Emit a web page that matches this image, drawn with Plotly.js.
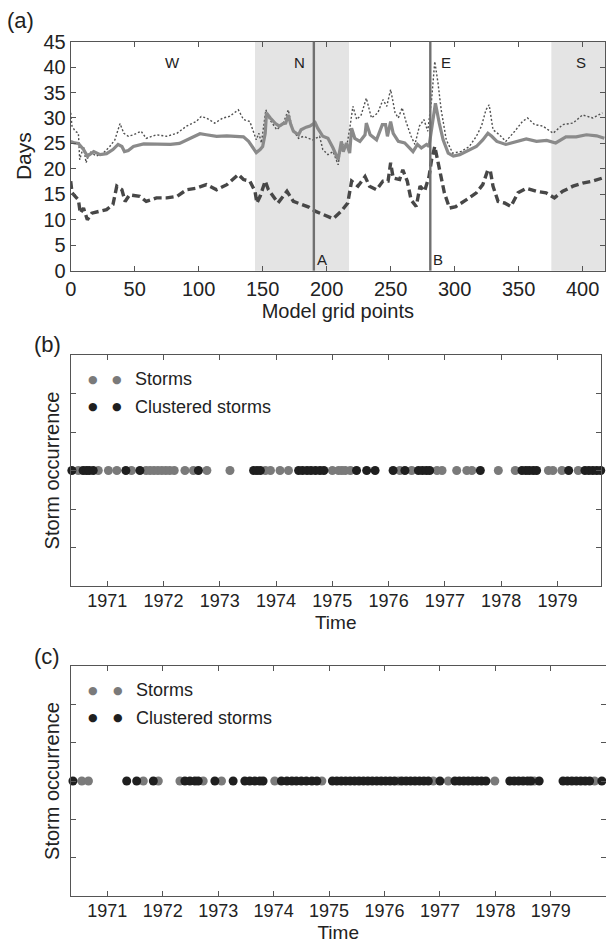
<!DOCTYPE html>
<html>
<head>
<meta charset="utf-8">
<script src="https://cdn.plot.ly/plotly-3.0.1.min.js"></script>
<style>
  html, body { margin: 0; padding: 0; background: #fff; }
  #chart { width: 606px; height: 949px; }
</style>
</head>
<body>
<div id="chart"></div>
<script>
// ---- Panel (a): days along the model grid ----
const solidGrid = [0, 3, 6, 10, 13, 18, 23, 28, 33, 37, 40, 42, 45, 49, 57, 67, 78, 85, 93, 101, 106, 114, 122, 130, 135, 139, 143, 145, 148, 150, 152, 153, 156, 160, 163, 166, 168, 170, 172, 174, 178, 180, 184, 187, 191, 193, 197, 201, 205, 209, 211.5, 213, 215.5, 218, 219.5, 222, 226, 230, 231, 234, 239, 243.5, 246, 247.5, 250, 252, 256, 261, 267.5, 271, 274, 278, 280, 283, 285, 288, 291, 295, 299, 304, 309, 317, 322, 326, 329, 333, 340, 348, 356, 364, 372, 379, 387, 395, 403, 411, 417];
const solidDays = [25.4, 25.1, 25.0, 23.8, 22.5, 23.4, 22.8, 23.0, 23.8, 24.8, 24.4, 23.4, 23.6, 24.4, 24.9, 24.8, 24.8, 25.0, 26.0, 26.9, 26.7, 26.4, 26.5, 26.4, 26.3, 25.4, 24.1, 23.2, 23.8, 24.4, 27.0, 31.0, 30.0, 28.9, 28.4, 28.9, 29.0, 30.6, 28.7, 27.4, 26.7, 27.7, 28.2, 28.4, 29.1, 28.0, 26.4, 26.0, 24.1, 21.8, 25.4, 23.4, 25.1, 23.1, 28.0, 26.0, 25.4, 26.7, 29.0, 26.7, 25.7, 28.7, 28.7, 26.4, 29.3, 27.0, 25.4, 25.1, 23.4, 24.8, 24.1, 24.8, 24.4, 29.7, 32.9, 29.0, 25.7, 23.1, 22.5, 22.8, 23.4, 24.4, 25.7, 27.0, 26.4, 25.4, 24.8, 25.4, 25.9, 25.4, 25.6, 25.1, 26.3, 26.3, 26.7, 26.5, 26.0];

const dottedGrid = [0, 1, 3.5, 6, 7, 10, 12, 15, 20, 25.5, 30.5, 34.5, 38.5, 41.5, 45, 49, 55, 59, 67, 75, 83, 90.5, 98, 102, 106, 112.5, 119, 124, 131, 135, 140, 142.5, 145, 147, 149, 152.5, 155.5, 161, 166, 170, 173, 178, 182, 189, 194.5, 197, 201, 205, 209, 211.5, 215.5, 218.5, 220.5, 223.5, 227, 231, 235, 240, 244, 247, 250, 253.5, 256, 259, 262, 266, 269, 272.5, 276, 279, 282, 284.5, 287, 289.5, 293.5, 298.5, 305, 311.5, 317, 321, 324.5, 327, 330, 335, 340, 347, 353, 357, 362.5, 369, 377, 384.5, 392.5, 400, 408, 415.5];
const dottedDays = [31.0, 28.4, 27.4, 27.0, 21.8, 24.4, 21.2, 23.4, 22.5, 23.1, 24.4, 25.7, 28.9, 27.0, 26.4, 26.7, 27.4, 26.0, 26.7, 26.4, 27.0, 28.4, 29.3, 30.3, 30.0, 29.0, 30.0, 30.3, 31.6, 29.7, 29.3, 27.7, 25.7, 27.0, 25.1, 31.6, 29.7, 27.7, 28.9, 31.6, 28.0, 26.0, 26.4, 25.7, 26.4, 23.8, 22.8, 23.4, 20.8, 25.1, 24.1, 28.7, 32.3, 29.7, 30.6, 33.9, 30.0, 31.0, 33.6, 32.3, 35.6, 31.0, 30.0, 32.0, 29.3, 26.4, 24.8, 28.4, 29.7, 27.4, 33.6, 41.1, 36.9, 31.6, 25.7, 23.1, 23.4, 24.4, 26.4, 28.4, 31.6, 32.6, 27.7, 26.7, 25.4, 27.4, 29.3, 30.0, 28.7, 28.4, 27.0, 28.7, 29.0, 30.6, 30.0, 31.0];

const dashedGrid = [0, 1, 3.5, 6, 7.5, 10, 13, 16.5, 23, 28, 33, 36, 40, 42.5, 46, 54, 59, 67, 75, 83, 90.5, 98, 106, 114, 122, 127, 131, 135, 140, 144, 145.5, 148, 152, 154.5, 158, 162, 166, 169, 174, 181.5, 186, 191, 197, 205, 211.5, 216.5, 219.5, 224.5, 230, 233.5, 239, 244, 248, 250, 252, 257, 259.5, 263, 266, 270, 273, 276.5, 280, 282, 284.5, 288, 289.5, 292, 296, 301, 309, 317, 322, 326, 328, 330, 334, 339, 344, 349.5, 356, 364, 371.5, 378, 384.5, 392.5, 400, 408, 415.5];
const dashedDays = [17.6, 15.3, 14.6, 13.9, 11.3, 12.3, 10.0, 11.3, 11.7, 12.0, 13.0, 16.6, 15.9, 13.6, 14.9, 14.6, 13.6, 14.3, 14.3, 14.6, 15.9, 16.2, 16.9, 15.9, 16.9, 17.9, 18.9, 17.9, 17.6, 15.6, 13.3, 14.6, 17.6, 15.9, 14.6, 13.3, 14.6, 15.6, 13.6, 13.0, 12.5, 11.7, 11.0, 10.2, 11.7, 13.3, 17.6, 16.6, 18.5, 16.6, 15.9, 17.6, 17.6, 21.2, 18.2, 17.9, 19.8, 17.6, 13.9, 12.6, 16.6, 15.6, 18.5, 21.8, 24.4, 19.8, 17.9, 15.3, 12.3, 12.6, 13.9, 15.3, 16.9, 19.8, 19.5, 16.6, 13.6, 13.3, 12.6, 15.3, 16.2, 15.6, 15.3, 14.3, 15.6, 16.6, 17.2, 17.6, 18.2];

// Shaded coastal sectors and their labels
const sectorStart = [144, 375.6];
const sectorEnd = [217.5, 417.5];
const regionNames = ['W', 'N', 'E', 'S'];
const regionGrid = [79.5, 178.4, 293.3, 398.7];
// Marked grid points
const markNames = ['A', 'B'];
const markGrid = [190, 281];

// ---- Panels (b) and (c): storm occurrence in time ----
const yearTicks = [1971, 1972, 1973, 1974, 1975, 1976, 1977, 1978, 1979];
const yearLabels = ['1971', '1972', '1973', '1974', '1975', '1976', '1977', '1978', '1979'];

const stormsB = [1970.485, 1970.84, 1971.02, 1971.17, 1971.43, 1971.69, 1971.76, 1971.83, 1971.90, 1971.97, 1972.04, 1972.11, 1972.19, 1972.38, 1972.53, 1972.77, 1973.18, 1973.81, 1973.90, 1974.07, 1974.22, 1975.0, 1975.11, 1975.17, 1975.23, 1975.32, 1976.20, 1976.41, 1976.86, 1976.95, 1977.21, 1977.39, 1977.48, 1977.95, 1978.25, 1978.84, 1978.92, 1979.08, 1979.37];
const clusteredB = [1970.37, 1970.57, 1970.63, 1970.68, 1970.75, 1971.33, 1971.58, 1972.62, 1973.60, 1973.66, 1973.72, 1974.40, 1974.47, 1974.55, 1974.62, 1974.70, 1974.78, 1974.85, 1975.43, 1975.61, 1975.76, 1976.08, 1976.29, 1976.53, 1976.60, 1976.67, 1976.73, 1977.63, 1978.37, 1978.44, 1978.50, 1978.57, 1978.63, 1979.20, 1979.49, 1979.56, 1979.63, 1979.70, 1979.77, 1979.84];

const stormsC = [1970.54, 1970.66, 1971.65, 1971.92, 1972.31, 1972.73, 1973.06, 1974.02, 1974.87, 1976.25, 1976.88, 1977.15, 1977.99, 1978.70, 1979.79];
const clusteredC = [1970.38, 1971.35, 1971.53, 1971.83, 1972.40, 1972.49, 1972.58, 1972.64, 1972.94, 1973.27, 1973.48, 1973.57, 1973.66, 1973.75, 1973.81, 1974.14, 1974.24, 1974.33, 1974.41, 1974.50, 1974.59, 1974.69, 1974.78, 1975.06, 1975.14, 1975.22, 1975.30, 1975.38, 1975.46, 1975.54, 1975.62, 1975.70, 1975.78, 1975.86, 1975.94, 1976.02, 1976.10, 1976.18, 1976.31, 1976.39, 1976.47, 1976.55, 1976.63, 1976.71, 1976.79, 1977.0, 1977.27, 1977.35, 1977.43, 1977.51, 1977.59, 1977.67, 1977.75, 1977.83, 1978.26, 1978.34, 1978.42, 1978.50, 1978.58, 1978.64, 1978.79, 1979.22, 1979.30, 1979.38, 1979.46, 1979.54, 1979.62, 1979.70, 1979.92];

const legendNames = ['Storms', 'Clustered storms'];

// ---- styling ----
const FONT = 'Liberation Sans, Arial, Helvetica, sans-serif';
const INK = '#222';
const FRAME = '#555';
const GREY_DOT = '#7a7a7a';
const DARK_DOT = '#1f1f1f';

function frameAxis(extra) {
  return Object.assign({
    showline: true, linecolor: FRAME, linewidth: 1, mirror: 'ticks',
    ticks: 'inside', ticklen: 5, tickcolor: FRAME, tickwidth: 1,
    showgrid: false, zeroline: false, fixedrange: true,
    tickfont: { family: FONT, size: 20, color: INK }
  }, extra);
}

const zeros = arr => arr.map(() => 0);

const traces = [
  { x: dottedGrid, y: dottedDays, xaxis: 'x', yaxis: 'y', mode: 'lines',
    line: { color: '#505050', width: 1.4, dash: '2px,2px' }, showlegend: false },
  { x: solidGrid, y: solidDays, xaxis: 'x', yaxis: 'y', mode: 'lines',
    line: { color: '#8a8a8a', width: 3.2 }, showlegend: false },
  { x: dashedGrid, y: dashedDays, xaxis: 'x', yaxis: 'y', mode: 'lines',
    line: { color: '#474747', width: 3.4, dash: '8px,4px' }, showlegend: false },

  { x: stormsB, y: zeros(stormsB), xaxis: 'x2', yaxis: 'y2', mode: 'markers', name: legendNames[0],
    marker: { size: 9, color: GREY_DOT, line: { width: 0 } }, cliponaxis: false, showlegend: false },
  { x: clusteredB, y: zeros(clusteredB), xaxis: 'x2', yaxis: 'y2', mode: 'markers', name: legendNames[1],
    marker: { size: 9, color: DARK_DOT, line: { width: 0 } }, cliponaxis: false, showlegend: false },

  { x: stormsC, y: zeros(stormsC), xaxis: 'x3', yaxis: 'y3', mode: 'markers', name: legendNames[0],
    marker: { size: 9, color: GREY_DOT, line: { width: 0 } }, cliponaxis: false, showlegend: false },
  { x: clusteredC, y: zeros(clusteredC), xaxis: 'x3', yaxis: 'y3', mode: 'markers', name: legendNames[1],
    marker: { size: 9, color: DARK_DOT, line: { width: 0 } }, cliponaxis: false, showlegend: false }
];

const shapes = [];
sectorStart.forEach((s, i) => {
  shapes.push({ type: 'rect', xref: 'x', yref: 'y domain', x0: s, x1: sectorEnd[i], y0: 0, y1: 1,
    fillcolor: '#e4e4e4', line: { width: 0 }, layer: 'below' });
});
markGrid.forEach(g => {
  shapes.push({ type: 'line', xref: 'x', yref: 'y domain', x0: g, x1: g, y0: 0, y1: 1,
    line: { color: '#707070', width: 2.4 }, layer: 'above' });
});

const annotations = [];
const tag = (text, x, y) => annotations.push({ text, xref: 'paper', yref: 'paper', x, y,
  xanchor: 'center', yanchor: 'middle', showarrow: false, font: { family: FONT, size: 22, color: INK } });
tag('(a)', 0.034, 0.978);
tag('(b)', 0.078, 0.6375);
tag('(c)', 0.078, 0.3087);

regionNames.forEach((n, i) => annotations.push({ text: n, xref: 'x', yref: 'y', x: regionGrid[i], y: 41,
  showarrow: false, xanchor: 'center', yanchor: 'middle', font: { family: FONT, size: 15, color: INK } }));
markNames.forEach((n, i) => annotations.push({ text: n, xref: 'x', yref: 'y', x: markGrid[i], y: 2.1,
  showarrow: false, xanchor: 'left', yanchor: 'middle', xshift: 1, font: { family: FONT, size: 15, color: INK } }));

// Legend rows for the two storm panels: two symbols followed by the label
function legendRows(ax) {
  const rows = [{ color: GREY_DOT, y: 0.895 }, { color: DARK_DOT, y: 0.776 }];
  rows.forEach((r, i) => {
    [0.0415, 0.088].forEach(xp => annotations.push({ text: '\u25CF', xref: ax.x + ' domain', yref: ax.y + ' domain',
      x: xp, y: r.y, xanchor: 'center', yanchor: 'middle', showarrow: false,
      font: { family: 'DejaVu Sans', size: 11, color: r.color } }));
    annotations.push({ text: legendNames[i], xref: ax.x + ' domain', yref: ax.y + ' domain',
      x: 0.118, y: r.y, xanchor: 'left', yanchor: 'middle', showarrow: false,
      font: { family: FONT, size: 18, color: INK } });
  });
}
legendRows({ x: 'x2', y: 'y2' });
legendRows({ x: 'x3', y: 'y3' });

const layout = {
  width: 606, height: 949,
  margin: { l: 0, r: 0, t: 0, b: 0 },
  paper_bgcolor: '#fff', plot_bgcolor: '#fff',
  showlegend: false,
  font: { family: FONT, color: INK },
  xaxis: frameAxis({ domain: [0.1167, 0.9983], anchor: 'y', range: [0, 417.5], dtick: 50, tick0: 0,
    title: { text: 'Model grid points', font: { family: FONT, size: 20, color: INK }, standoff: 5 } }),
  yaxis: frameAxis({ domain: [0.7148, 0.9561], anchor: 'x', range: [0, 45], dtick: 5, tick0: 0,
    title: { text: 'Days', font: { family: FONT, size: 21, color: INK }, standoff: 6 } }),
  xaxis2: frameAxis({ domain: [0.1167, 0.9913], anchor: 'y2', range: [1970.35, 1979.77],
    tickvals: yearTicks, ticktext: yearLabels, tickfont: { family: FONT, size: 18, color: INK },
    ticklabelstandoff: -2,
    title: { text: 'Time', font: { family: FONT, size: 19, color: INK }, standoff: 6 } }),
  yaxis2: frameAxis({ domain: [0.3825, 0.6259], anchor: 'x2', range: [-3, 3],
    tickvals: [-2, -1, 0, 1, 2], showticklabels: false,
    title: { text: 'Storm occurrence', font: { family: FONT, size: 20, color: INK }, standoff: 4 } }),
  xaxis3: frameAxis({ domain: [0.1167, 0.9995], anchor: 'y3', range: [1970.34, 1979.99],
    tickvals: yearTicks, ticktext: yearLabels, tickfont: { family: FONT, size: 18, color: INK },
    ticklabelstandoff: -2,
    title: { text: 'Time', font: { family: FONT, size: 19, color: INK }, standoff: 6 } }),
  yaxis3: frameAxis({ domain: [0.0558, 0.2982], anchor: 'x3', range: [-3, 3],
    tickvals: [-2, -1, 0, 1, 2], showticklabels: false,
    title: { text: 'Storm occurrence', font: { family: FONT, size: 20, color: INK }, standoff: 4 } }),
  shapes, annotations
};

Plotly.newPlot('chart', traces, layout, { displayModeBar: false, staticPlot: true });
</script>
</body>
</html>
